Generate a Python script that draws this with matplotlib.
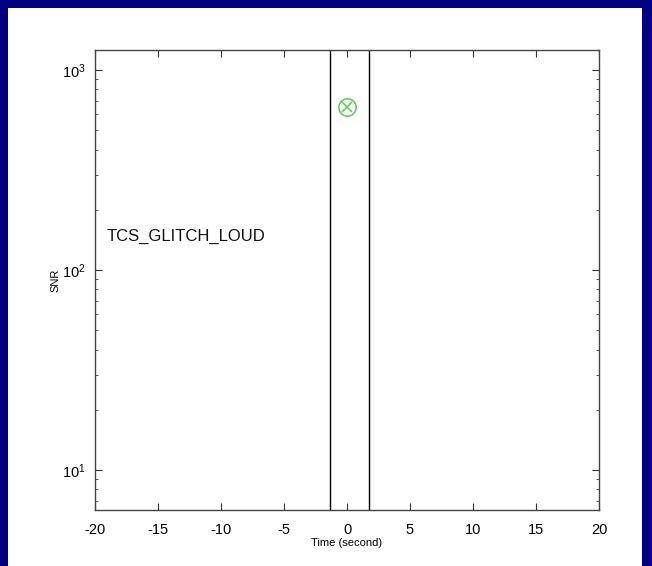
import numpy as np
import matplotlib
matplotlib.use('Agg')
import matplotlib.pyplot as plt
from matplotlib.patches import Rectangle

# window edges (seconds) and the loud glitch trigger
window_edges = [-1.35, 1.75]
trig_time = [0.0]
trig_snr = [650.0]
label = 'TCS_GLITCH_LOUD'

plt.rcParams['font.family'] = ['Liberation Sans', 'DejaVu Sans']
plt.rcParams['axes.unicode_minus'] = False

W, H = 652, 566
fig = plt.figure(figsize=(W / 100, H / 100), dpi=100, facecolor='#000080')
# white panel inside the blue frame (no frame at the bottom)
fig.patches.append(Rectangle((8 / W, 0), (642 - 8) / W, (H - 8) / H,
                             transform=fig.transFigure, facecolor='white',
                             edgecolor='none', zorder=-10))

ax = fig.add_axes([95 / W, (H - 510) / H, 504 / W, 460 / H])
ax.set_zorder(5)
ax.set_yscale('log')
ax.set_xlim(-20, 20)
ax.set_ylim(10 ** 0.8, 10 ** 3.1)

for x in window_edges:
    ax.axvline(x, color='black', linewidth=1.0)

ax.plot(trig_time, trig_snr, 'o', ms=12.5, mfc='none', mec='#55cc55', mew=1.1)
ax.plot(trig_time, trig_snr, 'x', ms=7.5, color='#55cc55', mew=1.1)

ax.text(-19.05, 147, label, fontsize=12, ha='left', va='center', color='#111111')

ax.set_xticks(np.arange(-20, 21, 5))
ax.set_xlabel('Time (second)', fontsize=8, labelpad=1)
ax.set_ylabel('SNR', fontsize=8, labelpad=1)
ax.tick_params(which='both', direction='in', top=True, right=True,
               colors='#333333', labelcolor='black')
ax.tick_params(which='major', length=5, labelsize=10.5)
ax.tick_params(axis='x', which='major', pad=9)
ax.tick_params(axis='y', which='major', pad=7)
ax.tick_params(which='minor', length=2.5)
for s in ax.spines.values():
    s.set_color('#444444')
    s.set_linewidth(1.0)

fig.savefig('out.png', dpi=100, facecolor=fig.get_facecolor())
